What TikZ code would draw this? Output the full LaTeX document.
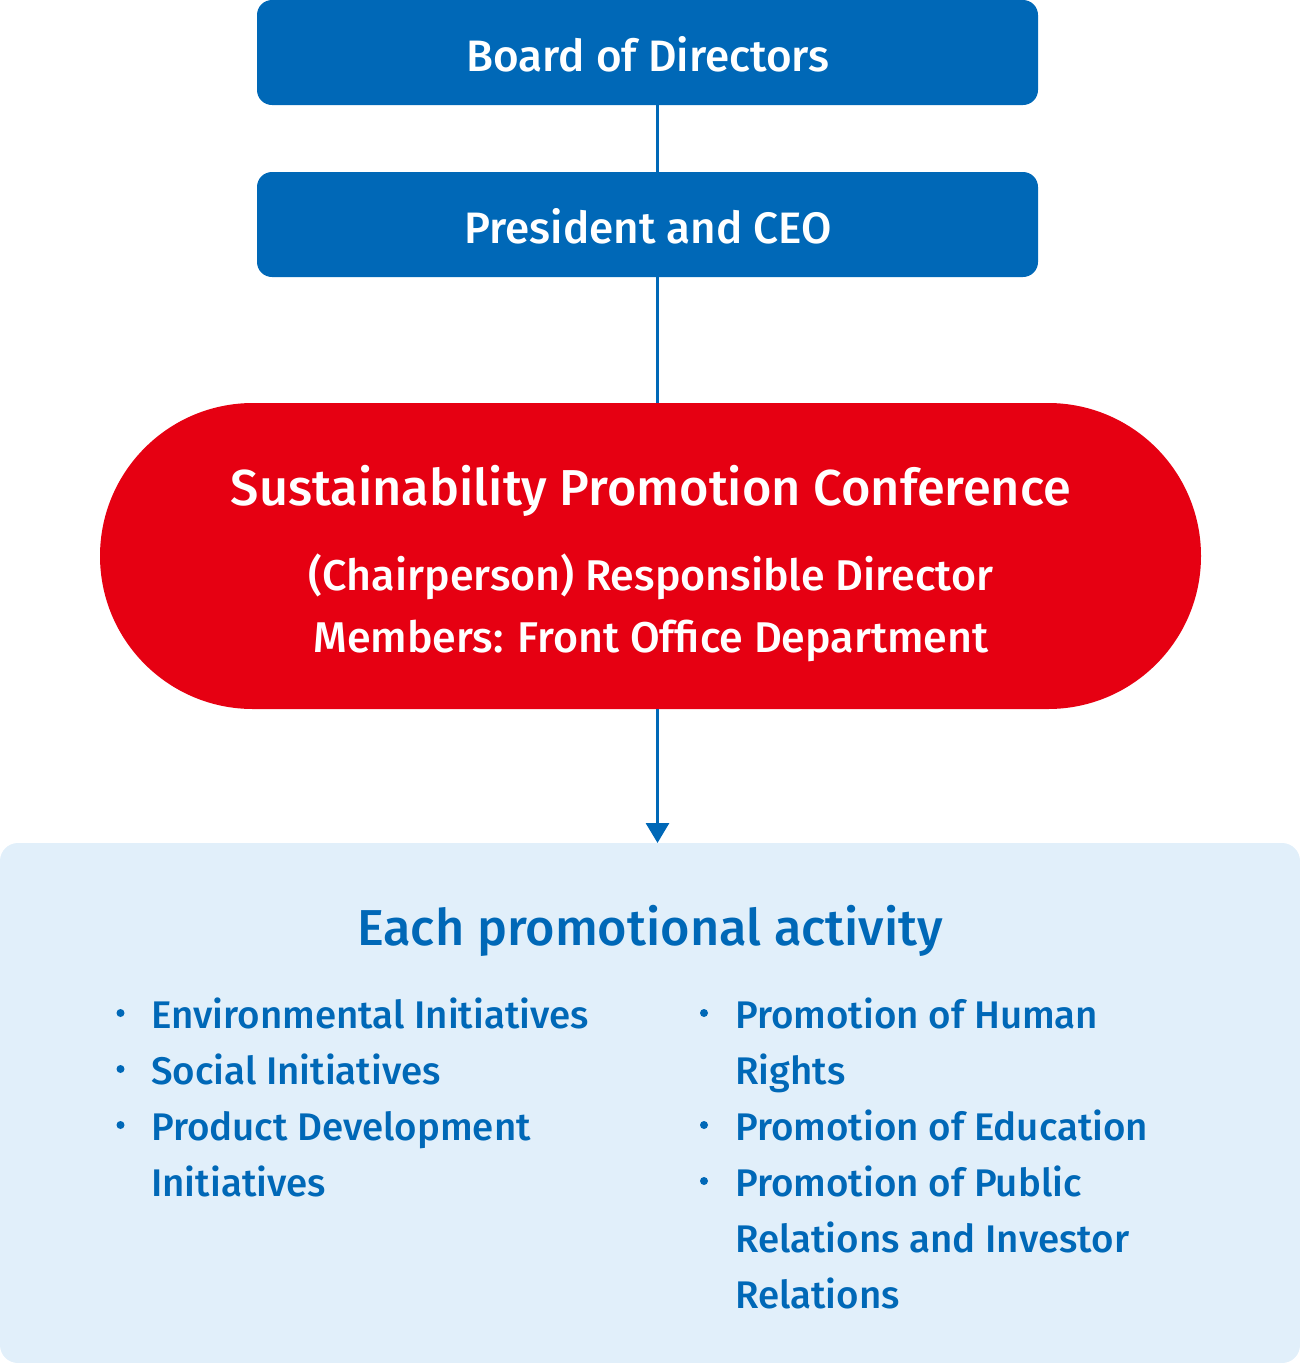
\documentclass[tikz,border=0pt]{standalone}
\usepackage{fontspec}
\setmainfont{Fira Sans}[UprightFont={* Medium}, BoldFont={* SemiBold}]
\usetikzlibrary{arrows.meta}
\definecolor{cblue}{RGB}{0,104,183}
\definecolor{cred}{RGB}{230,0,18}
\definecolor{clight}{RGB}{225,239,250}
\tikzset{
  topbox/.style={fill=cblue, rounded corners=15pt, minimum width=781pt, minimum height=105pt, inner sep=0pt},
  wtext/.style={text=white, inner sep=0pt, anchor=base},
  btext/.style={text=cblue, inner sep=0pt, anchor=base west, font=\fontsize{38.5}{46}\selectfont},
  conn/.style={draw=cblue, line width=3pt},
  bul/.style={fill=cblue},
}
\begin{document}
\begin{tikzpicture}[x=1pt,y=-1pt]
\useasboundingbox (0,0) rectangle (1300,1363);
% boxes
\node[topbox] (board) at (647.5,52.5) {};
\node[topbox] (pres) at (647.5,224.5) {};
\node[fill=cred, rounded corners=153pt, minimum width=1101pt, minimum height=306pt, inner sep=0pt] (conf) at (650.5,556) {};
\fill[clight, rounded corners=18pt] (0,843) rectangle (1300,1363);
\coordinate (act) at (657.5,843);
% connectors
\draw[conn] (board.south -| act) -- (pres.north -| act);
\draw[conn] (pres.south -| act) -- (conf.north -| act);
\draw[conn, -{Triangle[width=23pt,length=20pt]}] (conf.south -| act) -- (act);
% texts
\node[wtext, font=\fontsize{44}{52}\selectfont] (tboard) at (648,71) {Board of Directors};
\node[wtext, font=\fontsize{44}{52}\selectfont] (tpres) at (648,243) {President and CEO};
\node[wtext, font=\fontsize{50.5}{60}\selectfont] (tconf) at (651,505) {Sustainability Promotion Conference};
\node[wtext, font=\fontsize{43}{52}\selectfont] (tchair) at (651,590) {(Chairperson) Responsible Director};
\node[wtext, font=\fontsize{43}{52}\selectfont] (tmem) at (651,652) {Members: Front Office Department};
\node[anchor=base, inner sep=0pt, text=cblue, font=\fontsize{50.5}{60}\selectfont] (teach) at (650,945) {Each promotional activity};
% left list
\node[btext] (l1) at (151,1028) {Environmental Initiatives};
\node[btext] (l2) at (151,1084) {Social Initiatives};
\node[btext] (l3) at (151,1140) {Product Development};
\node[btext] (l3b) at (151,1196) {Initiatives};
% right list
\node[btext] (r1) at (735,1028) {Promotion of Human};
\node[btext] (r1b) at (735,1084) {Rights};
\node[btext] (r2) at (735,1140) {Promotion of Education};
\node[btext] (r3) at (735,1196) {Promotion of Public};
\node[btext] (r3b) at (735,1252) {Relations and Investor};
\node[btext] (r3c) at (735,1308) {Relations};
% bullets
\foreach \y in {1013,1069,1125} {
  \fill[bul] (120.5,\y) circle (4pt);
}
\foreach \y in {1013,1125,1181} {
  \fill[bul] (704,\y) circle (4pt);
}
\end{tikzpicture}
\end{document}
